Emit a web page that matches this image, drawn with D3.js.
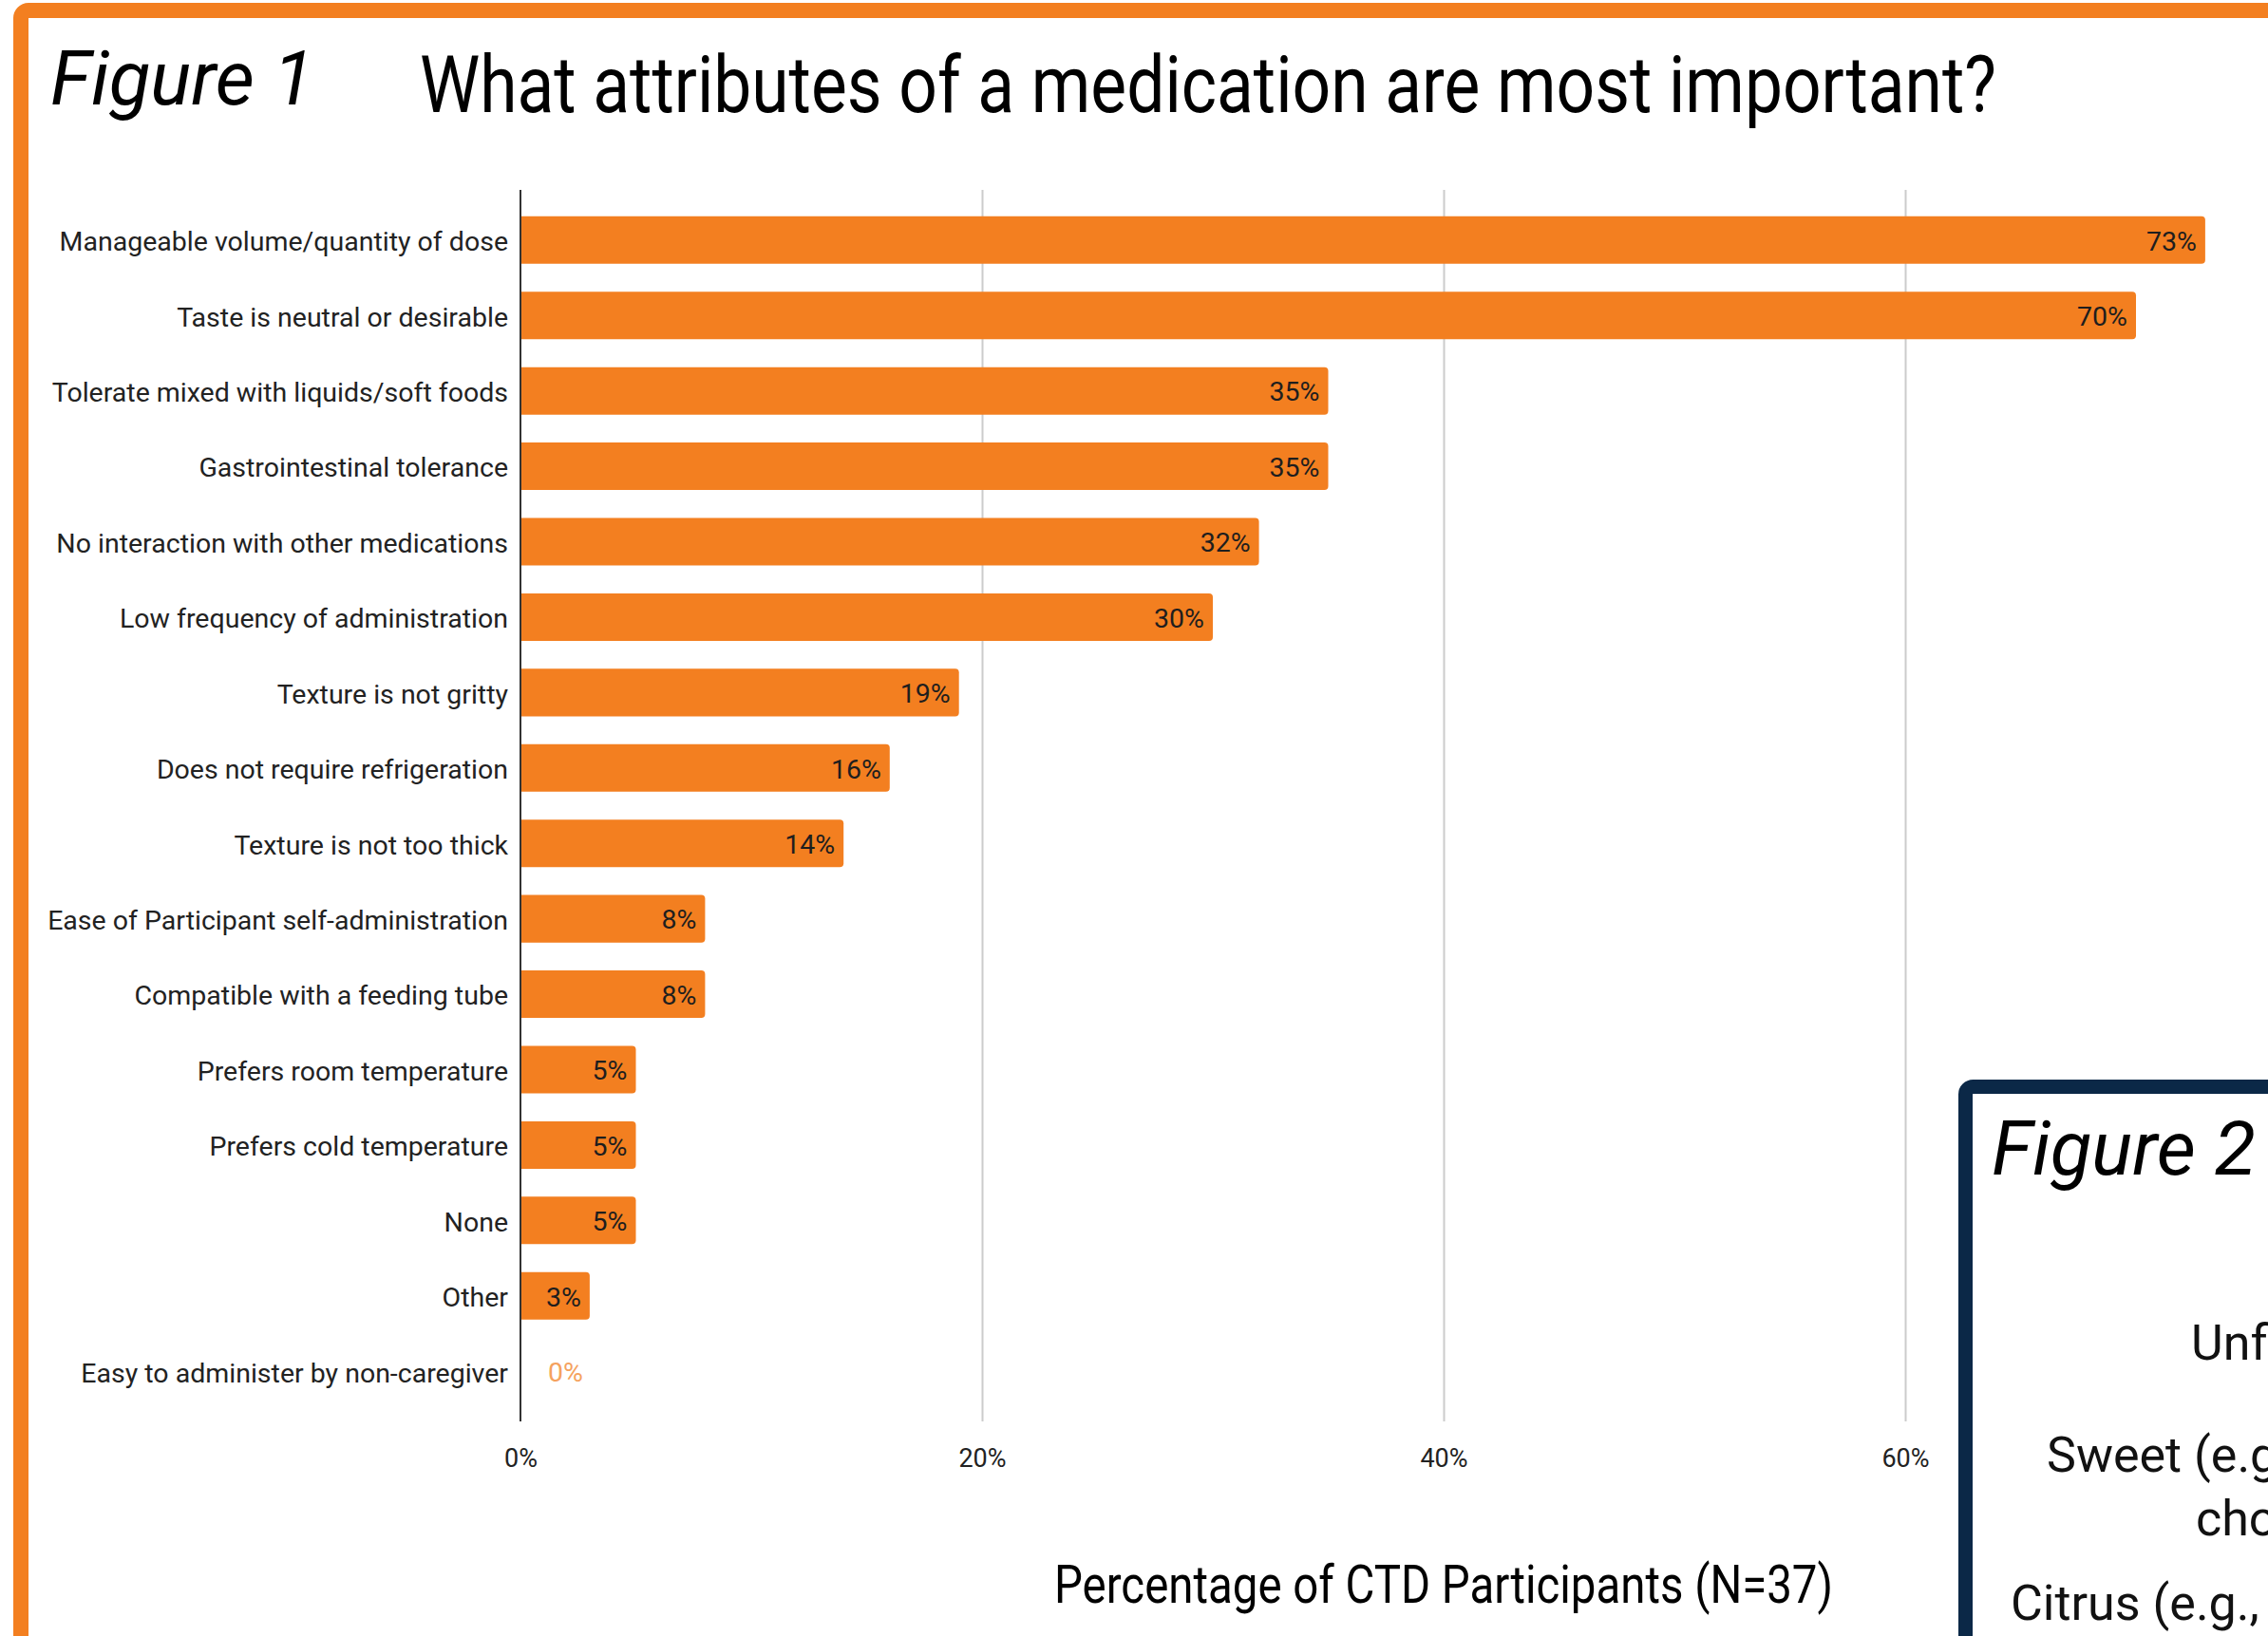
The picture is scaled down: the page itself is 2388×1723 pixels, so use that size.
<!DOCTYPE html>
<html>
<head>
<meta charset="utf-8">
<script src="https://cdn.jsdelivr.net/npm/d3@7"></script>
<style>
  body { margin: 0; background: #fff; }
  svg { display: block; font-family: Roboto, "Noto Sans", sans-serif; }
</style>
</head>
<body>
<div id="chart"></div>
<script>
// data
var categories = [
  "Manageable volume/quantity of dose",
  "Taste is neutral or desirable",
  "Tolerate mixed with liquids/soft foods",
  "Gastrointestinal tolerance",
  "No interaction with other medications",
  "Low frequency of administration",
  "Texture is not gritty",
  "Does not require refrigeration",
  "Texture is not too thick",
  "Ease of Participant self-administration",
  "Compatible with a feeding tube",
  "Prefers room temperature",
  "Prefers cold temperature",
  "None",
  "Other",
  "Easy to administer by non-caregiver"
];
var percents = [73, 70, 35, 35, 32, 30, 19, 16, 14, 8, 8, 5, 5, 5, 3, 0];
var tickValues = [0, 20, 40, 60];

// the second panel is cut off at the edge of the page
var fig2Labels = ["Unfl", "Sweet (e.g", "cho", "Citrus (e.g.,"];

var svgWidth = 2388;
var svgHeight = 1723;

var orange = "#f37f20";
var navy = "#0b2847";

var svg = d3.select("#chart")
  .append("svg")
  .attr("width", svgWidth)
  .attr("height", svgHeight);

// orange frame round figure 1
svg.append("rect")
  .attr("x", 22)
  .attr("y", 11)
  .attr("width", 2500)
  .attr("height", 2000)
  .attr("rx", 8)
  .attr("fill", "#fff")
  .attr("stroke", orange)
  .attr("stroke-width", 16);

// titles
svg.append("text")
  .attr("x", 53)
  .attr("y", 110)
  .attr("font-size", 80)
  .attr("font-style", "italic")
  .attr("fill", "#000")
  .text("Figure 1");

svg.append("text")
  .attr("x", 442)
  .attr("y", 118)
  .attr("font-size", 84)
  .attr("textLength", 1660)
  .attr("lengthAdjust", "spacingAndGlyphs")
  .attr("fill", "#000")
  .text("What attributes of a medication are most important?");

// scales
var plotTop = 200;
var plotBottom = 1497;

var xScale = d3.scaleLinear()
  .domain([0, 60])
  .range([548, 2006]);

var yScale = d3.scaleBand()
  .domain(categories)
  .range([plotTop, plotBottom])
  .paddingInner(0.37)
  .paddingOuter(0.35);

// gridlines
var grid = svg.append("g")
  .attr("transform", `translate(0, ${plotBottom})`)
  .call(d3.axisBottom(xScale)
    .tickValues(tickValues.slice(1))
    .tickSize(-(plotBottom - plotTop))
    .tickFormat(""));
grid.select(".domain").remove();
grid.selectAll("line").attr("stroke", "#cccccc").attr("stroke-width", 2);

// x tick labels
var xAxis = svg.append("g")
  .attr("transform", `translate(0, ${plotBottom})`)
  .call(d3.axisBottom(xScale)
    .tickValues(tickValues)
    .tickSize(0)
    .tickPadding(29)
    .tickFormat(d => d + "%"));
xAxis.select(".domain").remove();
xAxis.selectAll("text")
  .attr("font-size", 27)
  .attr("font-family", "Roboto")
  .attr("fill", "#222");

// category labels
var yAxis = svg.append("g")
  .attr("transform", `translate(${xScale(0)}, 0)`)
  .call(d3.axisLeft(yScale).tickSize(0).tickPadding(13));
yAxis.select(".domain").remove();
yAxis.selectAll("text")
  .attr("font-size", 28.5)
  .attr("dy", "0.4em")
  .attr("font-family", "Roboto")
  .attr("fill", "#222");

// bars with rounded right corners
function barPath(d, i) {
  var x0 = xScale(0);
  var x1 = xScale(percents[i]);
  var y0 = yScale(d);
  var h = yScale.bandwidth();
  var r = Math.min(4, x1 - x0);
  return `M${x0},${y0} H${x1 - r} Q${x1},${y0} ${x1},${y0 + r} V${y0 + h - r} Q${x1},${y0 + h} ${x1 - r},${y0 + h} H${x0} Z`;
}

svg.append("g")
  .selectAll("path")
  .data(categories)
  .enter()
  .append("path")
  .filter((d, i) => percents[i] > 0)
  .attr("d", barPath)
  .attr("fill", orange);

// value labels
svg.append("g")
  .selectAll("text")
  .data(categories)
  .enter()
  .append("text")
  .attr("x", (d, i) => percents[i] > 0 ? xScale(percents[i]) - 9 : xScale(0) + 29)
  .attr("y", d => yScale(d) + yScale.bandwidth() / 2)
  .attr("dy", "0.38em")
  .attr("text-anchor", (d, i) => percents[i] > 0 ? "end" : "start")
  .attr("font-size", 28.5)
  .attr("fill", (d, i) => percents[i] > 0 ? "#1e1e1e" : "#f5a25e")
  .text((d, i) => percents[i] + "%");

// axis line
svg.append("line")
  .attr("x1", xScale(0))
  .attr("x2", xScale(0))
  .attr("y1", plotTop)
  .attr("y2", plotBottom)
  .attr("stroke", "#333")
  .attr("stroke-width", 2);

// x axis title
svg.append("text")
  .attr("x", 1110)
  .attr("y", 1688)
  .attr("font-size", 56)
  .attr("textLength", 820)
  .attr("lengthAdjust", "spacingAndGlyphs")
  .attr("fill", "#000")
  .text("Percentage of CTD Participants (N=37)");

// figure 2 panel, partly outside the page
svg.append("rect")
  .attr("x", 2069.5)
  .attr("y", 1144.5)
  .attr("width", 800)
  .attr("height", 800)
  .attr("rx", 8)
  .attr("fill", "#fff")
  .attr("stroke", navy)
  .attr("stroke-width", 15);

svg.append("text")
  .attr("x", 2097)
  .attr("y", 1237)
  .attr("font-size", 80)
  .attr("font-style", "italic")
  .attr("fill", "#000")
  .text("Figure 2");

var fig2X = [2307, 2155, 2312, 2117];
var fig2Y = [1432, 1550, 1617, 1706];
svg.append("g")
  .selectAll("text")
  .data(fig2Labels)
  .enter()
  .append("text")
  .attr("x", (d, i) => fig2X[i])
  .attr("y", (d, i) => fig2Y[i])
  .attr("font-size", 52)
  .attr("fill", "#111")
  .text(d => d);
</script>
</body>
</html>
